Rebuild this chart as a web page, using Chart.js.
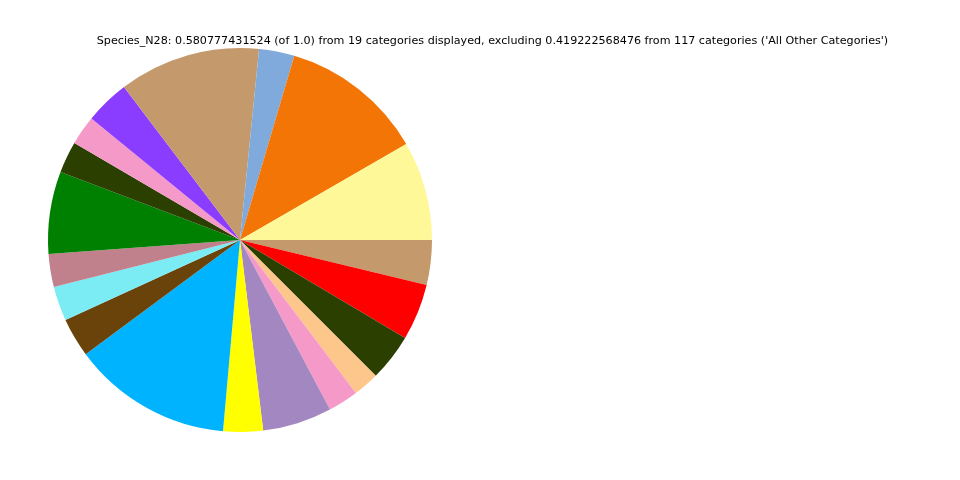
<!DOCTYPE html>
<html>
<head>
<meta charset="utf-8">
<script src="https://cdn.jsdelivr.net/npm/chart.js@4/dist/chart.umd.min.js"></script>
<style>
  body { margin: 0; background: #fff; }
  #wrap { width: 960px; height: 480px; position: relative; }
</style>
</head>
<body>
<div id="wrap"><canvas id="pieChart"></canvas></div>
<script>
// slices in matplotlib order (counter-clockwise from 3 o'clock)
const categories = [
  "Cat 1", "Cat 2", "Cat 3", "Cat 4", "Cat 5", "Cat 6", "Cat 7", "Cat 8", "Cat 9", "Cat 10",
  "Cat 11", "Cat 12", "Cat 13", "Cat 14", "Cat 15", "Cat 16", "Cat 17", "Cat 18", "Cat 19"
];
const shares = [
  0.0484, 0.0703, 0.0173, 0.0692, 0.0218, 0.0144, 0.0155, 0.0403, 0.0161, 0.0168,
  0.0192, 0.0781, 0.0194, 0.0339, 0.0148, 0.0127, 0.0231, 0.0276, 0.0219
];
const sliceColors = [
  "#fff899", "#f37506", "#7faadb", "#c49a6c", "#8b3dff", "#f59ac8", "#2b4000", "#008000", "#c0808c", "#7bebf4",
  "#6a430a", "#00b3ff", "#ffff00", "#a387c0", "#f59ac8", "#fdc68a", "#2b4000", "#ff0000", "#c49a6c"
];
const titleText = "Species_N28: 0.580777431524 (of 1.0) from 19 categories displayed, excluding 0.419222568476 from 117 categories ('All Other Categories')";

// Chart.js draws clockwise, so flip the order
const labels1 = categories.slice().reverse();
const data1 = shares.slice().reverse();
const colors1 = sliceColors.slice().reverse();

// title drawn across the whole figure, not just the pie area
const figTitle = {
  id: "figTitle",
  afterDraw(chart) {
    const c = chart.ctx;
    c.save();
    c.font = "11.15px 'DejaVu Sans'";
    c.fillStyle = "#000";
    c.textAlign = "center";
    c.textBaseline = "alphabetic";
    c.fillText(titleText, 492.5, 44);
    c.restore();
  }
};

const ctx = document.getElementById("pieChart");
new Chart(ctx, {
  type: "pie",
  data: {
    labels: labels1,
    datasets: [{
      data: data1,
      backgroundColor: colors1,
      borderWidth: 0
    }]
  },
  options: {
    responsive: true,
    maintainAspectRatio: false,
    animation: false,
    rotation: 90,
    layout: { padding: { top: 48, bottom: 48, left: 48, right: 528 } },
    plugins: {
      legend: { display: false },
      tooltip: { enabled: false }
    }
  },
  plugins: [figTitle]
});
</script>
</body>
</html>
